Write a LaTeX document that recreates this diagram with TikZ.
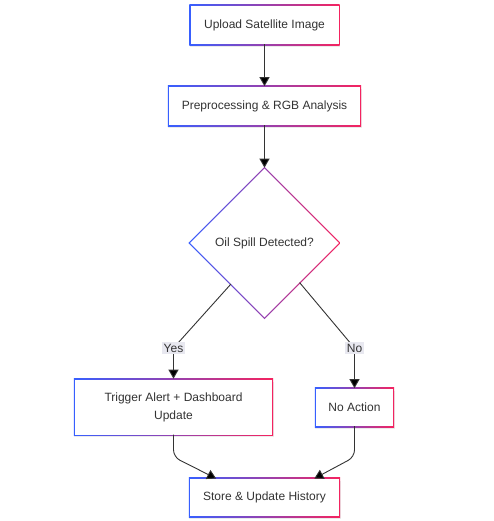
\documentclass[tikz,border=0pt]{standalone}
\usepackage{fontspec}
\setmainfont{Liberation Sans}
\usetikzlibrary{arrows.meta,shapes.geometric,calc}
\pgfdeclarelayer{bg}
\pgfdeclarelayer{paper}
\pgfsetlayers{paper,bg,main}
\definecolor{gA}{RGB}{55,95,255}
\definecolor{gB}{RGB}{245,35,95}
\definecolor{txt}{RGB}{51,51,51}
\definecolor{lbl}{RGB}{232,232,240}
\definecolor{edgec}{RGB}{51,51,51}
\newcommand\gradframe[1]{%
  \begin{pgfonlayer}{bg}
    \fill[black,opacity=0.08] ([shift={(-0.5pt,-2.6pt)}]#1.north west) rectangle ([shift={(1.6pt,-2.6pt)}]#1.south east);
    \shade[left color=gA,right color=gB] ([shift={(-1pt,1pt)}]#1.north west) rectangle ([shift={(1pt,-1pt)}]#1.south east);
  \end{pgfonlayer}}
\tikzset{
  box/.style={rectangle, fill=white, text=txt, font=\fontsize{12}{18}\selectfont, inner sep=0pt, align=center},
  decision/.style={diamond, aspect=1, fill=white, text=txt, font=\fontsize{12}{18}\selectfont, inner sep=0pt, minimum width=149pt, minimum height=149pt},
  flow/.style={draw=edgec, line width=0.9pt, -{Triangle[length=9pt,width=10pt,fill=black]}, shorten >=0.6pt},
  elabel/.style={fill=lbl, text=txt, font=\fontsize{12}{14}\selectfont, inner xsep=1.5pt, inner ysep=2pt},
}
\begin{document}
\begin{tikzpicture}[x=1pt,y=-1pt]
\useasboundingbox (0,0) rectangle (493,521);
\begin{pgfonlayer}{paper}
\fill[white] (0,0) rectangle (493,521);
\end{pgfonlayer}

\node[box, minimum width=148pt, minimum height=38pt] (u) at (264.5,25) {Upload Satellite Image};
\node[box, minimum width=191pt, minimum height=38pt] (p) at (264.5,106) {Preprocessing \& RGB Analysis};
\node[decision] (d) at (264.5,243) {Oil Spill Detected?};
\node[box, minimum width=197pt, minimum height=55pt] (t) at (173.5,407) {Trigger Alert + Dashboard\\Update};
\node[box, minimum width=77pt, minimum height=37pt] (n) at (354.5,407.5) {No Action};
\node[box, minimum width=149pt, minimum height=37pt] (s) at (264.5,497.5) {Store \& Update History};

\gradframe{u}
\gradframe{p}
\gradframe{t}
\gradframe{n}
\gradframe{s}
\begin{pgfonlayer}{bg}
  \shade[left color=gA,right color=gB] ($(d.north)+(0,1.4pt)$) -- ($(d.east)+(1.4pt,0)$) -- ($(d.south)+(0,-1.4pt)$) -- ($(d.west)+(-1.4pt,0)$) -- cycle;
\end{pgfonlayer}

\coordinate (dl) at ($(d.west)!0.55!(d.south)$);
\coordinate (dr) at ($(d.east)!0.53!(d.south)$);
\coordinate (yc) at (173.5,348);
\coordinate (nc) at (354.5,348);
\coordinate (tk) at (173.5,457);
\coordinate (nk) at (354.5,457);
\coordinate (sl) at ($(s.north west)!0.18!(s.north east)$);
\coordinate (sr) at ($(s.north west)!0.83!(s.north east)$);

\draw[flow] (u.south) -- (p.north);
\draw[flow] (p.south) -- (d.north);
\draw[flow] (dl) -- (yc) -- (t.north);
\draw[flow] (dr) -- (nc) -- (n.north);
\draw[flow, rounded corners=7pt] (t.south) -- (tk) -- (sl);
\draw[flow, rounded corners=7pt] (n.south) -- (nk) -- (sr);

\node[elabel] (yes) at (yc) {Yes};
\node[elabel] (no) at (nc) {No};
\end{tikzpicture}
\end{document}
